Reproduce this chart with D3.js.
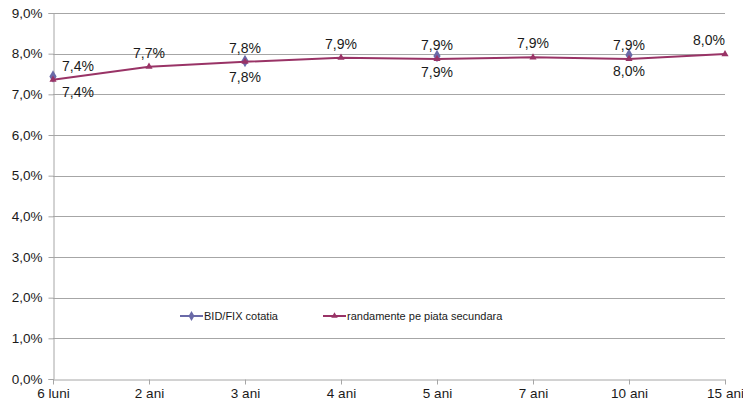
<!DOCTYPE html>
<html>
<head>
<meta charset="utf-8">
<script src="https://cdn.jsdelivr.net/npm/d3@7"></script>
<style>
  body { margin: 0; background: #fff; }
  text { font-family: "Liberation Sans", Arial, sans-serif; fill: #1a1a1a; }
</style>
</head>
<body>
<div id="wrapper"></div>
<script>
// 1. Data

const maturities = ["6 luni", "2 ani", "3 ani", "4 ani", "5 ani", "7 ani", "10 ani", "15 ani"]
const bidFix = [7.44, null, 7.82, null, 7.94, null, 7.97, null]
const secondary = [7.36, 7.68, 7.80, 7.90, 7.87, 7.91, 7.87, 7.99]
const yTicks = [0, 1, 2, 3, 4, 5, 6, 7, 8, 9]
const seriesNames = ["BID/FIX cotatia", "randamente pe piata secundara"]

const ro = d3.formatLocale({ decimal: ",", thousands: ".", grouping: [3], currency: ["", " lei"] })
const pct = d => ro.format(".1f")(d) + "%"

// 2. Dimensions

const dimensions = {
  width: 743,
  height: 408,
  margin: { top: 13, right: 18, bottom: 29, left: 53 },
}
dimensions.boundedWidth = dimensions.width - dimensions.margin.left - dimensions.margin.right
dimensions.boundedHeight = dimensions.height - dimensions.margin.top - dimensions.margin.bottom

const blue = "#6a6aa8"
const plum = "#993366"

// 3. Canvas

const svg = d3.select("#wrapper")
  .append("svg")
    .attr("width", dimensions.width)
    .attr("height", dimensions.height)

const bounds = svg.append("g")
    .attr("transform", `translate(${dimensions.margin.left},${dimensions.margin.top})`)

// 4. Scales

const xScale = d3.scalePoint()
  .domain(maturities)
  .range([0, dimensions.boundedWidth])

const yScale = d3.scaleLinear()
  .domain([0, 9])
  .range([dimensions.boundedHeight, 0])

// 5. Peripherals

bounds.append("g")
  .selectAll("line")
  .data(yTicks.filter(d => d > 0))
  .join("line")
    .attr("x1", 0)
    .attr("x2", dimensions.boundedWidth)
    .attr("y1", d => Math.round(yScale(d)) + 0.5)
    .attr("y2", d => Math.round(yScale(d)) + 0.5)
    .attr("stroke", "#a6a6a6")

const yAxis = bounds.append("g")
  .attr("transform", "translate(0.5,0)")
  .call(d3.axisLeft(yScale).tickValues(yTicks).tickFormat(pct).tickSize(5).tickPadding(6))
yAxis.select(".domain").attr("stroke", "#a6a6a6")
yAxis.selectAll(".tick line").attr("stroke", "#a6a6a6")
yAxis.selectAll(".tick text").style("font-size", "13.5px").attr("fill", "#1a1a1a")

const xAxis = bounds.append("g")
  .attr("transform", `translate(0,${Math.round(dimensions.boundedHeight) + 0.5})`)
  .call(d3.axisBottom(xScale).tickSizeInner(5).tickSizeOuter(0).tickPadding(4))
xAxis.select(".domain").attr("stroke", "#a6a6a6")
xAxis.selectAll(".tick line").attr("stroke", "#a6a6a6")
xAxis.selectAll(".tick text").style("font-size", "13.5px").attr("fill", "#1a1a1a")

// 6. Data

const line = d3.line()
  .defined(d => d[1] != null)
  .x(d => xScale(d[0]))
  .y(d => yScale(d[1]))

const secPts = maturities.map((m, i) => [m, secondary[i]])
const bidPts = maturities.map((m, i) => [m, bidFix[i]]).filter(d => d[1] != null)

// blue diamonds (no connecting line: gaps between quotes)
bounds.append("g")
  .selectAll("path")
  .data(bidPts)
  .join("path")
    .attr("d", d3.symbol(d3.symbolDiamond, 45))
    .attr("transform", d => `translate(${xScale(d[0])},${yScale(d[1])})`)
    .attr("fill", blue)

bounds.append("path")
  .datum(secPts)
  .attr("d", line)
  .attr("fill", "none")
  .attr("stroke", plum)
  .attr("stroke-width", 2)

bounds.append("g")
  .selectAll("path")
  .data(secPts)
  .join("path")
    .attr("d", d3.symbol(d3.symbolTriangle, 22))
    .attr("transform", d => `translate(${xScale(d[0])},${yScale(d[1])})`)
    .attr("fill", plum)

// labels
const lastIdx = maturities.length - 1
const labelX = (m) => {
  const i = maturities.indexOf(m)
  return i === 0 ? xScale(m) + 9 : xScale(m)
}
const labelAnchor = (m) => {
  const i = maturities.indexOf(m)
  return i === 0 ? "start" : i === lastIdx ? "end" : "middle"
}

bounds.append("g")
  .selectAll("text")
  .data(secPts)
  .join("text")
    .attr("x", d => labelX(d[0]))
    .attr("y", d => yScale(d[1]) - 9)
    .attr("text-anchor", d => labelAnchor(d[0]))
    .style("font-size", "14px")
    .text(d => pct(d[1]))

bounds.append("g")
  .selectAll("text")
  .data(bidPts)
  .join("text")
    .attr("x", d => labelX(d[0]))
    .attr("y", d => yScale(d[1]) + 21)
    .attr("text-anchor", d => labelAnchor(d[0]))
    .style("font-size", "14px")
    .text(d => pct(d[1]))

// 7. Legend

const legend = svg.append("g")
  .attr("transform", "translate(180,316)")

const legendItems = [
  { name: seriesNames[0], color: blue, symbol: d3.symbolDiamond, size: 30, x: 0 },
  { name: seriesNames[1], color: plum, symbol: d3.symbolTriangle, size: 18, x: 143 },
]

legendItems.forEach(item => {
  const g = legend.append("g").attr("transform", `translate(${item.x},0)`)
  g.append("line")
    .attr("x1", 0).attr("x2", 23)
    .attr("stroke", item.color)
    .attr("stroke-width", 2)
  g.append("path")
    .attr("d", d3.symbol(item.symbol, item.size))
    .attr("transform", "translate(11.5,0)")
    .attr("fill", item.color)
  g.append("text")
    .attr("x", 24)
    .attr("y", 4)
    .style("font-size", "11px")
    .text(item.name)
})
</script>
</body>
</html>
